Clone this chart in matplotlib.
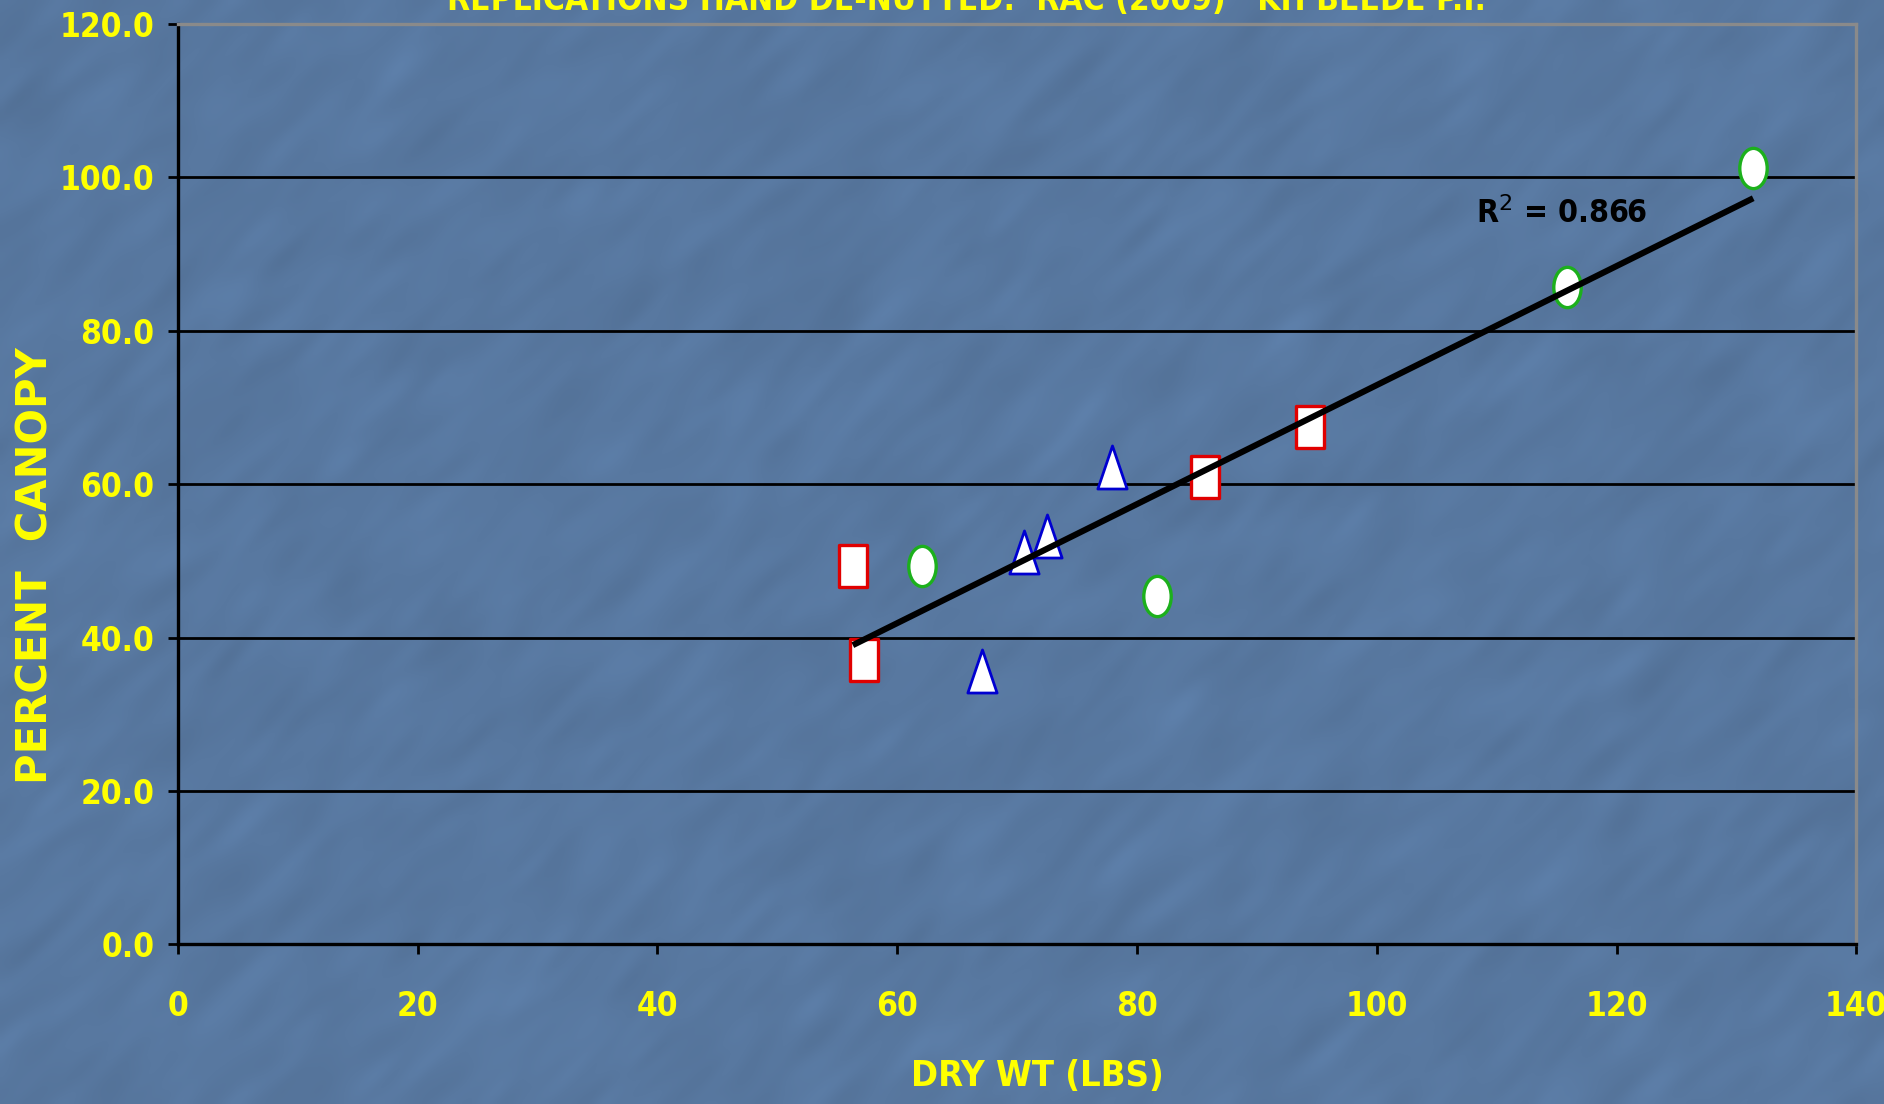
import numpy as np
import matplotlib
matplotlib.use("Agg")
import matplotlib.pyplot as plt
import matplotlib.font_manager as fm
from matplotlib.path import Path
from matplotlib.transforms import Affine2D
from matplotlib.font_manager import FontProperties

# Replicate measurements: dry weight (lbs) vs percent canopy
square_x = [56.3, 57.2, 85.7, 94.4]
square_y = [49.3, 37.1, 60.9, 67.4]
triangle_x = [67.1, 70.6, 72.5, 77.9]
triangle_y = [35.6, 51.2, 53.3, 62.3]
circle_x = [62.1, 81.7, 115.9, 131.4]
circle_y = [49.3, 45.4, 85.7, 101.2]

x_ticks = [0, 20, 40, 60, 80, 100, 120, 140]
y_ticks = [0.0, 20.0, 40.0, 60.0, 80.0, 100.0, 120.0]
r2_label = "R$^{2}$ = 0.866"
title = "REPLICATIONS HAND DE-NUTTED:  RAC (2009)   KH BEEDE P.I."

BG = "#5878a0"
YELLOW = "#ffff00"


def _weight(entry):
    wv = entry.weight
    if isinstance(wv, str):
        wv = fm.weight_dict.get(wv, 400)
    return wv


# Prefer a bold condensed sans face if one is installed
def condensed_bold_file():
    best = None
    for f in fm.fontManager.ttflist:
        tag = (f.name + " " + f.fname).lower()
        if ("narrow" not in tag and "condensed" not in tag) or "italic" in tag or f.style != "normal":
            continue
        score = (_weight(f) >= 600, "liberation" in tag, -abs(_weight(f) - 700))
        if best is None or score > best[0]:
            best = (score, f.fname)
    if best is not None and best[0][0]:
        return best[1]
    return None


cond_file = condensed_bold_file()


def narrow_font(size):
    if cond_file:
        return FontProperties(fname=cond_file, size=size)
    return FontProperties(family=["Liberation Sans", "DejaVu Sans"], weight="bold", size=size * 0.85)


fp_tick = narrow_font(24)
fp_xlabel = narrow_font(26)
fp_title = narrow_font(24)
fp_r2 = narrow_font(23)
fp_ylabel = FontProperties(family=["DejaVu Sans"], weight="bold", size=30)

fig = plt.figure(figsize=(18.84, 11.04), dpi=100, facecolor=BG)

# Soft mottled backdrop with streaks rising to the right
rng = np.random.default_rng(7)
h, w = 276, 471
noise = rng.standard_normal((h, w))
fy = np.fft.fftfreq(h)[:, None]
fx = np.fft.fftfreq(w)[None, :]
u = (fx + fy) / np.sqrt(2)
v = (fx - fy) / np.sqrt(2)
kernel = np.exp(-((v / 0.04) ** 2 + (u / 0.14) ** 2))
tex = np.real(np.fft.ifft2(np.fft.fft2(noise) * kernel))
tex = tex / np.abs(tex).max()
base = np.array(matplotlib.colors.to_rgb(BG))
img = np.clip(base[None, None, :] * (1 + 0.07 * tex[:, :, None]), 0, 1)
bg_ax = fig.add_axes([0, 0, 1, 1], zorder=-10)
bg_ax.imshow(img, aspect="auto", interpolation="bicubic", extent=[0, 1, 0, 1])
bg_ax.set_axis_off()

ax = fig.add_axes([0.0944, 0.1446, 0.8909, 0.8337])
ax.patch.set_alpha(0)

# Tall marker shapes
rect_marker = Path([(-0.34, -0.5), (0.34, -0.5), (0.34, 0.5), (-0.34, 0.5), (-0.34, -0.5)],
                   [Path.MOVETO, Path.LINETO, Path.LINETO, Path.LINETO, Path.CLOSEPOLY])
tri_marker = Path([(-0.34, -0.5), (0.34, -0.5), (0.0, 0.5), (-0.34, -0.5)],
                  [Path.MOVETO, Path.LINETO, Path.LINETO, Path.CLOSEPOLY])
ell_marker = Path.unit_circle().transformed(Affine2D().scale(0.34, 0.5))

# Gridlines
for yv in y_ticks[1:-1]:
    ax.axhline(yv, color="black", lw=2.0, zorder=1)

# Linear trendline through all points
all_x = np.array(square_x + triangle_x + circle_x)
all_y = np.array(square_y + triangle_y + circle_y)
slope, intercept = np.polyfit(all_x, all_y, 1)
xs = np.linspace(all_x.min(), all_x.max(), 50)
ax.plot(xs, slope * xs + intercept, color="black", lw=4.4, zorder=4,
        solid_capstyle="butt")

ax.plot(square_x, square_y, linestyle="none", marker=rect_marker, markersize=30,
        markerfacecolor="white", markeredgecolor="#e00000", markeredgewidth=2.4, zorder=3)
ax.plot(triangle_x, triangle_y, linestyle="none", marker=tri_marker, markersize=31,
        markerfacecolor="white", markeredgecolor="#0000d0", markeredgewidth=2.0, zorder=3)
ax.plot(circle_x, circle_y, linestyle="none", marker=ell_marker, markersize=29,
        markerfacecolor="white", markeredgecolor="#1cb01c", markeredgewidth=2.4, zorder=3)

ax.text(108.3, 94.05, r2_label, fontproperties=fp_r2, color="black",
        ha="left", va="baseline", zorder=5)

ax.set_xlim(0, 140)
ax.set_ylim(0, 120)
ax.set_xticks(x_ticks, labels=[f"{v}" for v in x_ticks], fontproperties=fp_tick, color=YELLOW)
ax.set_yticks(y_ticks, labels=[f"{v:.1f}" for v in y_ticks], fontproperties=fp_tick, color=YELLOW)
ax.tick_params(axis="x", direction="out", length=7, width=2, color="black", pad=26)
ax.tick_params(axis="y", direction="out", length=7, width=2, color="black", pad=10)

for side in ("left", "bottom"):
    ax.spines[side].set_color("black")
    ax.spines[side].set_linewidth(2.4)
for side in ("top", "right"):
    ax.spines[side].set_color("#8a8a8a")
    ax.spines[side].set_linewidth(2.4)

ax.set_xlabel("DRY WT (LBS)", fontproperties=fp_xlabel, color=YELLOW, labelpad=26)
ax.xaxis.label.set_x(0.512)
fig.text(0.019, 0.488, "PERCENT  CANOPY", fontproperties=fp_ylabel, color=YELLOW,
         rotation=90, ha="center", va="center")

fig.text(0.513, 0.991, title, fontproperties=fp_title, color=YELLOW,
         ha="center", va="baseline")

fig.savefig("out.png", dpi=100, facecolor=BG)
